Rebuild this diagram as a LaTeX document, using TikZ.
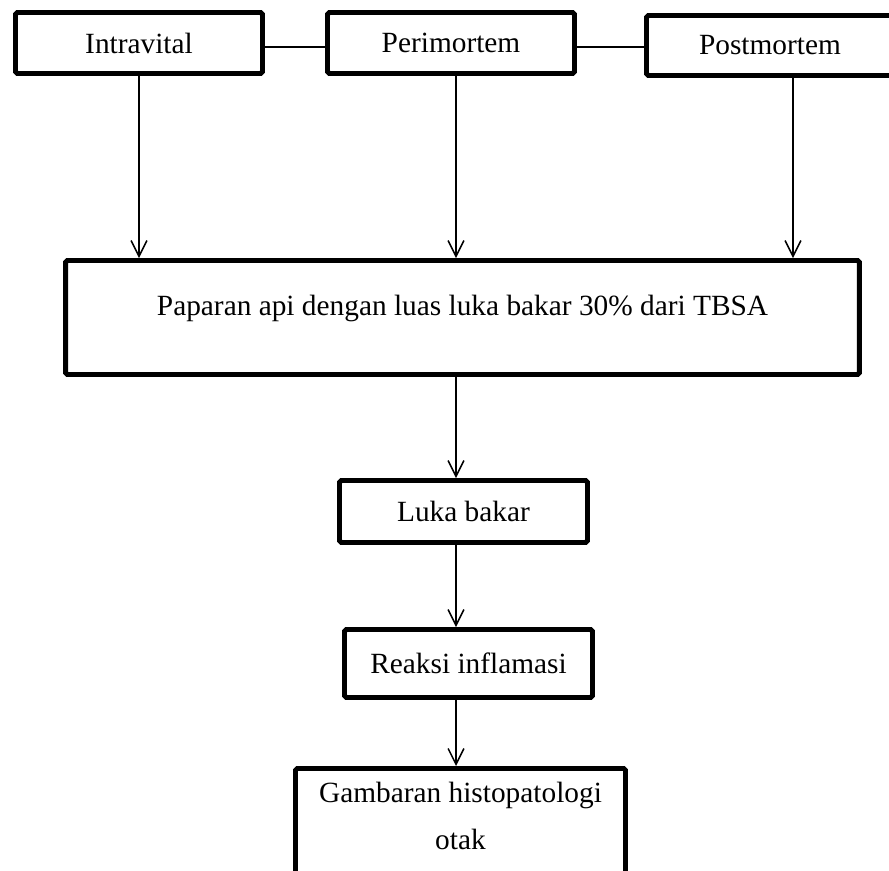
\documentclass[tikz,border=0pt]{standalone}
\usepackage{fontspec}
\setmainfont{Liberation Serif}
\usetikzlibrary{positioning,calc,arrows.meta}

\begin{document}
\begin{tikzpicture}[x=0.02cm, y=-0.02cm,
    box/.style={draw, line width=2.8pt, rounded corners=1pt, fill=white,
        font=\fontsize{16.7}{21.5}\selectfont, align=center, inner sep=0pt},
    link/.style={line width=0.85pt},
    flow/.style={line width=0.85pt, -{Straight Barb[length=9pt,width=9pt,line width=0.85pt]}}]
    \useasboundingbox (0,0) rectangle (889,871);
    \clip (0,0) rectangle (889,871);

    % top row
    \node[box, minimum width=4.94cm, minimum height=1.22cm] (intra) at (139,43) {Intravital};
    \node[box, minimum width=4.94cm, minimum height=1.22cm] (peri) at (451,43) {Perimortem};
    \node[box, minimum width=4.94cm, minimum height=1.20cm] (post) at (770,45.5) {Postmortem};
    \draw[link] ([yshift=-0.08cm]intra.east) -- ([yshift=-0.08cm]intra.east -| peri.west);
    \draw[link] ([yshift=-0.08cm]peri.east) -- ([yshift=-0.08cm]peri.east -| post.west);

    % exposure
    \node[box, minimum width=15.88cm, minimum height=2.28cm,
        text height=11pt, text depth=13.4pt] (pap) at (462.5,317.5)
        {Paparan api dengan luas luka bakar 30\% dari TBSA};
    \coordinate (spine) at (456,0);
    \coordinate (postx) at (793,0);
    \draw[flow] (intra.south) -- (intra.south |- pap.north);
    \draw[flow] (peri.south -| spine) -- (pap.north -| spine);
    \draw[flow] (post.south -| postx) -- (pap.north -| postx);

    % chain below
    \node[box, minimum width=4.96cm, minimum height=1.24cm] (luka) at (463.5,511.5) {Luka bakar};
    \node[box, minimum width=4.96cm, minimum height=1.36cm] (reaksi) at (468.5,663.5) {Reaksi inflamasi};
    \node[box, anchor=north, minimum width=6.6cm, inner ysep=8pt,
        text depth=4cm] (gamb) at (460.5,766)
        {Gambaran histopatologi\\[5pt]otak};
    \draw[flow] (pap.south -| spine) -- (luka.north -| spine);
    \draw[flow] (luka.south -| spine) -- (reaksi.north -| spine);
    \draw[flow] (reaksi.south -| spine) -- (gamb.north -| spine);
\end{tikzpicture}
\end{document}
